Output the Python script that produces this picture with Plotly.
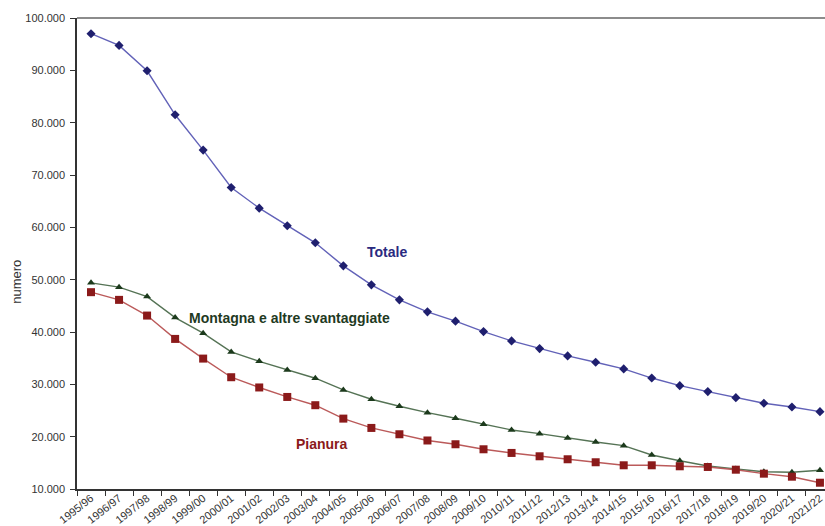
import plotly.graph_objects as go

# Anni scolastici
anni = [
    "1995/96", "1996/97", "1997/98", "1998/99", "1999/00", "2000/01", "2001/02",
    "2002/03", "2003/04", "2004/05", "2005/06", "2006/07", "2007/08", "2008/09",
    "2009/10", "2010/11", "2011/12", "2012/13", "2013/14", "2014/15", "2015/16",
    "2016/17", "2017/18", "2018/19", "2019/20", "2020/21", "2021/22",
]

totale = [
    97000, 94760, 89920, 81510, 74760, 67610, 63670, 60300, 57040, 52640,
    49010, 46140, 43850, 42070, 40080, 38300, 36830, 35430, 34220, 32950,
    31200, 29750, 28610, 27460, 26390, 25680, 24780,
]

montagna = [
    49390, 48570, 46770, 42760, 39770, 36200, 34400, 32750, 31170, 28930,
    27150, 25810, 24590, 23520, 22370, 21280, 20580, 19750, 18990, 18280,
    16500, 15410, 14400, 13830, 13310, 13190, 13570,
]

pianura = [
    47610, 46140, 43140, 38680, 34920, 31360, 29400, 27590, 26010, 23450,
    21670, 20460, 19270, 18550, 17590, 16890, 16250, 15680, 15110, 14530,
    14530, 14340, 14210, 13690, 12930, 12350, 11200,
]

y_ticks = [10000, 20000, 30000, 40000, 50000, 60000, 70000, 80000, 90000, 100000]

FONT = "Liberation Sans, Arial, sans-serif"

fig = go.Figure()

fig.add_trace(go.Scatter(
    x=anni, y=totale, mode="lines+markers", name="Totale",
    line=dict(color="#6262b8", width=1.4),
    marker=dict(symbol="diamond", size=7, color="#1f1f6e"),
))
fig.add_trace(go.Scatter(
    x=anni, y=montagna, mode="lines+markers", name="Montagna e altre svantaggiate",
    line=dict(color="#557355", width=1.4),
    marker=dict(symbol="triangle-up", size=7, color="#1c3a1c"),
))
fig.add_trace(go.Scatter(
    x=anni, y=pianura, mode="lines+markers", name="Pianura",
    line=dict(color="#bb5a5a", width=1.4),
    marker=dict(symbol="square", size=8, color="#8b1a1a"),
))

# Etichette delle serie
fig.add_annotation(x="2007/08", y=55300, text="<b>Totale</b>",
                   showarrow=False, xshift=-40,
                   font=dict(family=FONT, size=14, color="#2a2a80"))
fig.add_annotation(x="2003/04", y=42600, text="<b>Montagna e altre svantaggiate</b>",
                   showarrow=False, xshift=-26,
                   font=dict(family=FONT, size=14, color="#1f3a1f"))
fig.add_annotation(x="2004/05", y=18650, text="<b>Pianura</b>",
                   showarrow=False, xshift=-21,
                   font=dict(family=FONT, size=14, color="#8b1a1a"))

# Titolo dell'asse verticale
fig.add_annotation(xref="paper", yref="paper", x=-60 / 748, y=0.44,
                   text="numero", textangle=-90, showarrow=False,
                   xanchor="center", yanchor="middle",
                   font=dict(family=FONT, size=13, color="#333333"))

# Bordo superiore dell'area del grafico
fig.add_shape(type="line", xref="paper", yref="paper", x0=0, x1=1, y0=1, y1=1,
              line=dict(color="#8c8c8c", width=2))

fig.update_layout(
    width=825, height=526,
    margin=dict(l=77, r=0, t=18, b=37),
    paper_bgcolor="white", plot_bgcolor="white",
    showlegend=False,
    separators=",.",
    font=dict(family=FONT, size=11, color="#333333"),
    xaxis=dict(
        type="category",
        range=[-0.5, 26.18],
        automargin=False,
        tickangle=-38,
        tickson="boundaries",
        ticks="outside", ticklen=5, tickcolor="#333333",
        ticklabelstandoff=-3,
        showline=True, linecolor="#333333", linewidth=1.5,
        showgrid=False, zeroline=False,
        tickfont=dict(family=FONT, size=11, color="#333333"),
    ),
    yaxis=dict(
        range=[10000, 100000],
        automargin=False,
        tickvals=y_ticks,
        tickformat=",.0f",
        ticks="outside", ticklen=5, tickcolor="#333333",
        ticklabelstandoff=3,
        showline=True, linecolor="#333333", linewidth=1.5,
        showgrid=False, zeroline=False,
        tickfont=dict(family=FONT, size=11, color="#333333"),
    ),
)

fig.write_html("out.html")
